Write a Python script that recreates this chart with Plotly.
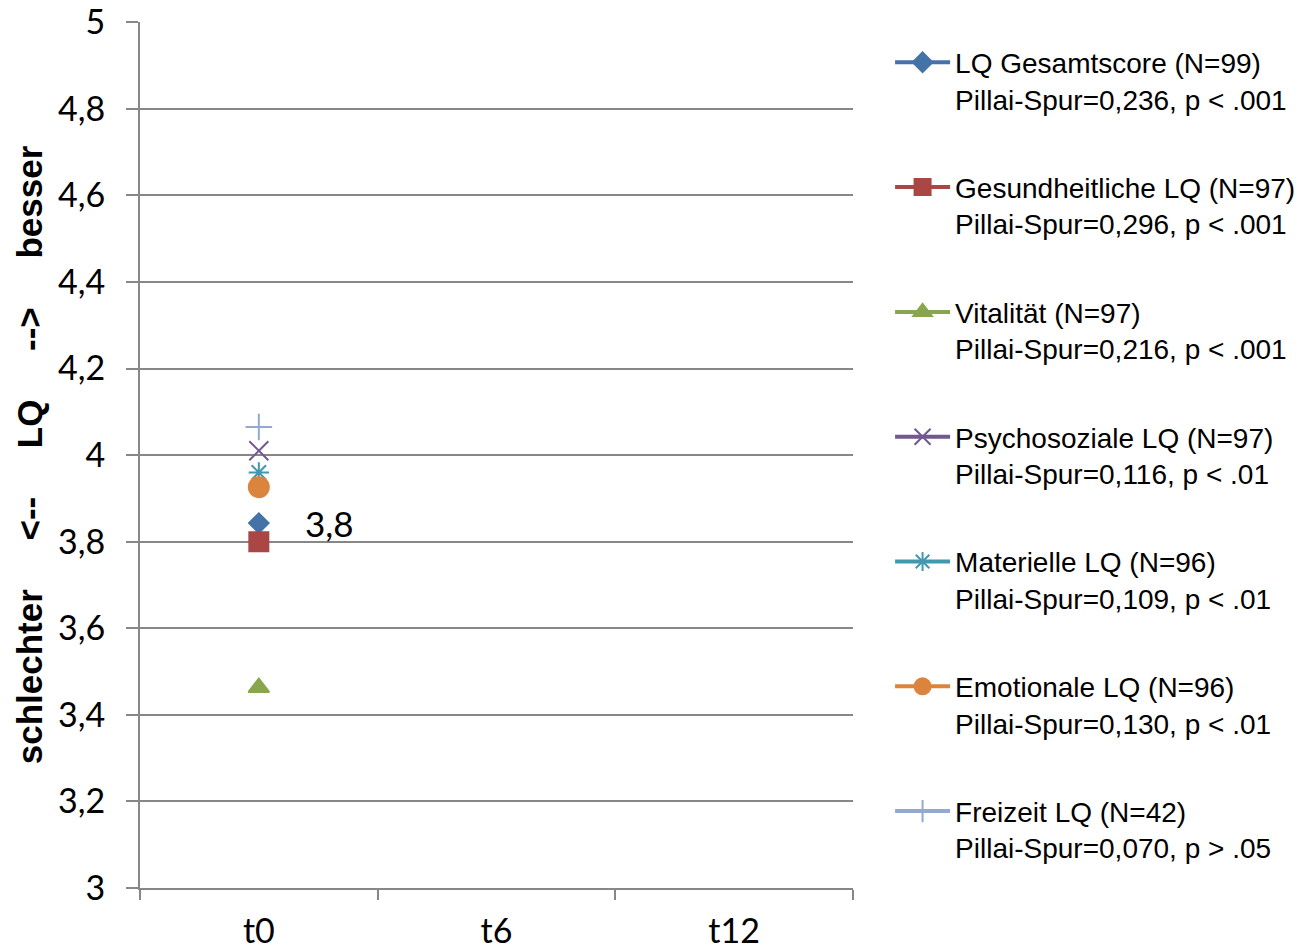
import plotly.graph_objects as go

categories = ["t0", "t6", "t12"]
y_ticks = [3, 3.2, 3.4, 3.6, 3.8, 4, 4.2, 4.4, 4.6, 4.8, 5]
series_names = [
    "LQ Gesamtscore (N=99)<br>Pillai-Spur=0,236, p < .001",
    "Gesundheitliche LQ (N=97)<br>Pillai-Spur=0,296, p < .001",
    "Vitalität (N=97)<br>Pillai-Spur=0,216, p < .001",
    "Psychosoziale LQ (N=97)<br>Pillai-Spur=0,116, p < .01",
    "Materielle LQ (N=96)<br>Pillai-Spur=0,109, p < .01",
    "Emotionale LQ (N=96)<br>Pillai-Spur=0,130, p < .01",
    "Freizeit LQ (N=42)<br>Pillai-Spur=0,070, p > .05",
]
gesamt = [3.843, None, None]
gesundheit = [3.80, None, None]
vitalitaet = [3.463, None, None]
psychosozial = [4.01, None, None]
materiell = [3.96, None, None]
emotional = [3.926, None, None]
freizeit = [4.065, None, None]
values = [gesamt, gesundheit, vitalitaet, psychosozial, materiell, emotional, freizeit]

colors = ["#4572A7", "#AA4643", "#89A54E", "#71588F", "#4198AF", "#DB843D", "#93A9CF"]
symbols = ["diamond", "square", "triangle-up", "x-thin-open", "asterisk-open", "circle", "cross-thin-open"]
sizes = [15, 19, 18, 19, 17, 20, 19]

xs = list(range(len(categories)))

fig = go.Figure()
for i, (name, vals) in enumerate(zip(series_names, values)):
    fig.add_trace(go.Scatter(
        x=xs, y=vals, name=name, mode="lines+markers",
        legendgroup=f"g{i}",
        line=dict(color=colors[i], width=4),
        marker=dict(symbol=symbols[i], size=sizes[i], color=colors[i],
                    line=dict(color=colors[i], width=2)),
        cliponaxis=False,
    ))

# data label for LQ Gesamtscore at t0
lab_val = gesamt[0]
fig.add_annotation(x=0, y=lab_val, text=f"{lab_val:.1f}".replace(".", ","),
                   showarrow=False, xanchor="left", yanchor="middle", xshift=44,
                   font=dict(family="Lato", size=35, color="black"))

sp = "\u00a0" * 5
ytitle = f"schlechter{sp}<--{sp}LQ{sp}-->{sp}besser"

fig.update_layout(
    width=1296, height=952,
    margin=dict(l=140, r=443, t=22, b=64, autoexpand=False),
    paper_bgcolor="white", plot_bgcolor="white",
    separators=",.",
    showlegend=True,
    legend=dict(x=1.052, xanchor="left", y=0.982, yanchor="top",
                font=dict(family="Liberation Sans, Arial", size=28, color="black"),
                tracegroupgap=49, valign="top", itemwidth=55, maxheight=940,
                bgcolor="rgba(0,0,0,0)"),
    xaxis=dict(range=[-0.5, 2.5], tickvals=xs, ticktext=categories, automargin=False,
               showgrid=False, zeroline=False, showline=True, linecolor="#878787", linewidth=2,
               ticks="", ticklabelstandoff=12, ticklabeloverflow="allow",
               tickfont=dict(family="Lato", size=34, color="black"),
               minor=dict(tick0=-0.5, dtick=1, ticks="outside", ticklen=10,
                          tickcolor="#878787", tickwidth=2, showgrid=False)),
    yaxis=dict(range=[3, 5.0005], tickmode="array", tickvals=y_ticks, automargin=False,
               showgrid=True, gridcolor="#878787", gridwidth=2,
               zeroline=False, showline=True, linecolor="#878787", linewidth=2,
               ticks="outside", ticklen=12, tickcolor="#878787", tickwidth=2,
               ticklabelstandoff=14, ticklabeloverflow="allow",
               tickfont=dict(family="Lato", size=34, color="black"),
               title=dict(text=ytitle, standoff=5,
                          font=dict(family="Liberation Sans, Arial", size=35, color="black",
                                    weight="bold"))),
)

fig.write_html("out.html")
